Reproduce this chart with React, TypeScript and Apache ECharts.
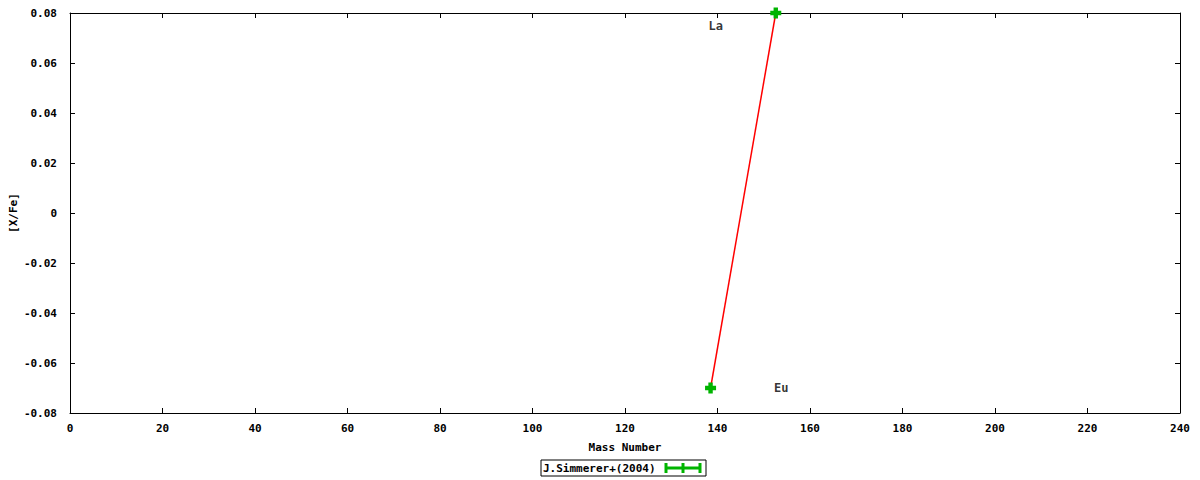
import React, { useEffect, useRef } from "react";
import * as echarts from "echarts";

// measured points, in drawing order
const massNumbers = [138.5, 152.6];
const xFe = [-0.07, 0.08];
const xFeErr = [0, 0];

// element labels as placed on the plot
const labelNames = ["La", "Eu"];
const labelX = [139.6, 153.8];
const labelY = [0.075, -0.07];

const seriesName = "J.Simmerer+(2004)";
const FONT = "'DejaVu Sans Mono', monospace";
const GREEN = "#00b400";
const PLUS = "path://M3,0H7V3H10V7H7V10H3V7H0V3H3Z";

export default function App() {
  const chartRef = useRef<HTMLDivElement>(null);

  useEffect(() => {
    if (!chartRef.current) return;
    const chart = echarts.init(chartRef.current, undefined, { renderer: "svg" });

    const axisText = { color: "#000", fontFamily: FONT, fontSize: 11, fontWeight: "bold" as const };
    const frame = { show: true, onZero: false, lineStyle: { color: "#000", width: 1 } };
    const ticks = { show: true, inside: true, length: 5, lineStyle: { color: "#000" } };

    const option: any = {
      animation: false,
      backgroundColor: "#fff",
      grid: { left: 70, right: 20, top: 13, bottom: 67, outerBoundsMode: "none" },
      xAxis: [
        {
          type: "value",
          min: 0,
          max: 240,
          interval: 20,
          name: "Mass Number",
          nameLocation: "middle",
          nameGap: 29,
          nameMoveOverlap: false,
          nameTextStyle: axisText,
          axisLine: frame,
          axisTick: ticks,
          axisLabel: { ...axisText, margin: 10 },
          splitLine: { show: false },
        },
        {
          type: "value",
          position: "top",
          min: 0,
          max: 240,
          interval: 20,
          axisLine: frame,
          axisTick: ticks,
          axisLabel: { show: false },
          splitLine: { show: false },
        },
      ],
      yAxis: [
        {
          type: "value",
          min: -0.08,
          max: 0.08,
          interval: 0.02,
          name: "[X/Fe]",
          nameLocation: "middle",
          nameGap: 51,
          nameRotate: 90,
          nameMoveOverlap: false,
          nameTextStyle: axisText,
          axisLine: frame,
          axisTick: ticks,
          axisLabel: {
            ...axisText,
            margin: 13,
            formatter: (v: number) => (Math.abs(v) < 1e-9 ? "0" : v.toFixed(2)),
          },
          splitLine: { show: false },
        },
        {
          type: "value",
          position: "right",
          min: -0.08,
          max: 0.08,
          interval: 0.02,
          axisLine: frame,
          axisTick: ticks,
          axisLabel: { show: false },
          splitLine: { show: false },
        },
      ],
      series: [
        {
          name: seriesName,
          type: "line",
          data: massNumbers.map((m, i) => [m, xFe[i], xFeErr[i]]),
          symbol: PLUS,
          symbolSize: 11,
          itemStyle: { color: GREEN },
          lineStyle: { color: "#ff0000", width: 1.5 },
          z: 3,
        },
        {
          name: "labels",
          type: "scatter",
          data: labelNames.map((n, i) => ({ name: n, value: [labelX[i], labelY[i]] })),
          symbolSize: 0,
          label: {
            show: true,
            formatter: (p: any) => p.name,
            position: "inside",
            ...axisText,
            fontSize: 12,
          },
          silent: true,
        },
      ],
      graphic: [
        {
          type: "rect",
          shape: { x: 541, y: 460, width: 165, height: 16 },
          style: { fill: "#fff", stroke: "#000", lineWidth: 1 },
        },
        {
          type: "text",
          x: 543,
          y: 468,
          style: {
            text: seriesName,
            fill: "#000",
            font: `bold 11px ${FONT}`,
            textVerticalAlign: "middle",
          },
        },
        {
          type: "line",
          shape: { x1: 666, y1: 468, x2: 700, y2: 468 },
          style: { stroke: GREEN, lineWidth: 3 },
        },
        {
          type: "line",
          shape: { x1: 666, y1: 463, x2: 666, y2: 473 },
          style: { stroke: GREEN, lineWidth: 3 },
        },
        {
          type: "line",
          shape: { x1: 700, y1: 463, x2: 700, y2: 473 },
          style: { stroke: GREEN, lineWidth: 3 },
        },
        {
          type: "line",
          shape: { x1: 683, y1: 463, x2: 683, y2: 473 },
          style: { stroke: GREEN, lineWidth: 3 },
        },
      ],
    };

    chart.setOption(option);
    return () => chart.dispose();
  }, []);

  return (
    <div
      ref={chartRef}
      style={{ position: "absolute", left: 0, top: 0, width: 1200, height: 480 }}
    />
  );
}
